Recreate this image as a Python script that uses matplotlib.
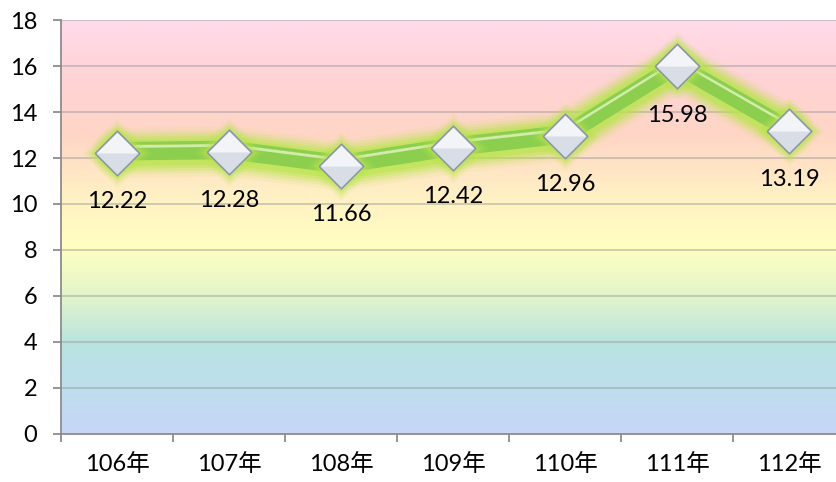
import numpy as np
import matplotlib
matplotlib.use('Agg')
import matplotlib.pyplot as plt
import matplotlib.transforms as mtransforms
from matplotlib.colors import LinearSegmentedColormap
from matplotlib.path import Path

plt.rcParams['font.family'] = ['Lato', 'Noto Sans CJK TC', 'DejaVu Sans']

# data
years = ['106年', '107年', '108年', '109年', '110年', '111年', '112年']
values = [12.22, 12.28, 11.66, 12.42, 12.96, 15.98, 13.19]
y_ticks = [0, 2, 4, 6, 8, 10, 12, 14, 16, 18]

W, H = 837, 482
fig = plt.figure(figsize=(W / 100, H / 100), dpi=100)
# plot area runs a little past the right edge, as in the reference
ax = fig.add_axes([61 / W, 48 / H, 784 / W, 414 / H])

x = np.arange(len(years))
ax.set_xlim(-0.5, len(years) - 0.5)
ax.set_ylim(0, 18)

# rainbow background, bottom (0) to top (18)
bg = LinearSegmentedColormap.from_list('bg', [
    (0.00, '#c7d6f8'),
    (0.12, '#bddfec'),
    (0.22, '#b9e4df'),
    (0.33, '#e2f4cb'),
    (0.45, '#ffffc0'),
    (0.58, '#fff0c4'),
    (0.72, '#ffd6c6'),
    (0.86, '#ffd3d6'),
    (1.00, '#ffdbe9'),
])
grad = np.linspace(0, 1, 256).reshape(-1, 1)
ax.imshow(grad, cmap=bg, aspect='auto', origin='lower',
          extent=[-0.5, len(years) - 0.5, 0, 18], zorder=0)

for v in y_ticks[1:]:
    ax.axhline(v, color='#9a9a9a', alpha=0.55, lw=1.2, zorder=1)

# glow around the line
for lw, a in [(36, 0.10), (31, 0.16), (27, 0.24), (23, 0.35), (19, 0.5)]:
    ax.plot(x, values, color='#b8e64a', lw=lw, alpha=a,
            solid_capstyle='round', solid_joinstyle='round', zorder=2)

ax.plot(x, values, color='#8ccf4f', lw=11, solid_joinstyle='round',
        solid_capstyle='butt', zorder=3)
up = ax.transData + mtransforms.ScaledTranslation(0, 4.5 / 72, fig.dpi_scale_trans)
ax.plot(x, values, color='#d2ecac', lw=2.0, transform=up, zorder=4)
up2 = ax.transData + mtransforms.ScaledTranslation(0, 6.8 / 72, fig.dpi_scale_trans)
ax.plot(x, values, color='#8ccf4f', lw=2.2, transform=up2, zorder=4)

# silver diamond markers with glow
diamond = Path([(-1, 0), (0, 1), (1, 0), (0, -1), (-1, 0)])
lower = Path([(-1, 0), (1, 0), (0, -1), (-1, 0)])
for ms, a in [(50, 0.12), (45, 0.2), (40, 0.32), (36, 0.45)]:
    ax.plot(x, values, ls='none', marker=diamond, ms=ms, mfc='#b8e64a',
            mec='none', alpha=a, zorder=5)
ax.plot(x, values, ls='none', marker=diamond, ms=32, mfc='#f2f4f8',
        mec='#8d98ad', mew=1.0, zorder=6)
ax.plot(x, values, ls='none', marker=lower, ms=30, mfc='#d9dde5',
        mec='none', zorder=7)
ax.plot(x, values, ls='none', marker=diamond, ms=32, mfc='none',
        mec='#8d98ad', mew=1.0, zorder=8)

for xi, v in zip(x, values):
    ax.annotate(f'{v:.2f}', (xi, v), xytext=(0, -35), textcoords='offset points',
                ha='center', va='center', fontsize=17, color='black', zorder=9)

for s in ['top', 'right']:
    ax.spines[s].set_visible(False)
for s in ['left', 'bottom']:
    ax.spines[s].set_color('#8c8c8c')
    ax.spines[s].set_linewidth(1.3)
    ax.spines[s].set_zorder(10)

ax.set_yticks(y_ticks)
ax.set_yticklabels([str(v) for v in y_ticks])
ax.set_xticks(x)
ax.set_xticklabels(years)
ax.set_xticks(np.arange(len(years) + 1) - 0.5, minor=True)
ax.tick_params(axis='x', which='major', length=0, pad=14, labelsize=17)
ax.tick_params(axis='x', which='minor', length=6, width=1.3, color='#8c8c8c')
ax.tick_params(axis='y', length=6, width=1.3, color='#8c8c8c', pad=11, labelsize=17)

fig.savefig('out.png', dpi=100)
